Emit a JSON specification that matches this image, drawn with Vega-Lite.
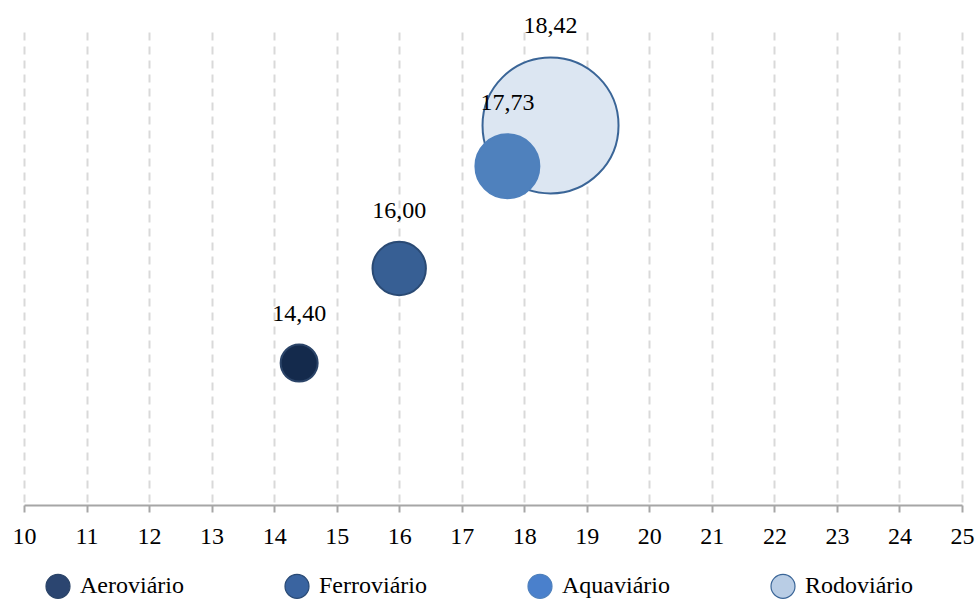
{
  "$schema": "https://vega.github.io/schema/vega-lite/v6.json",
  "width": 938,
  "height": 473,
  "autosize": "none",
  "padding": {"left": 24, "top": 32, "right": 14, "bottom": 95},
  "background": "white",
  "config": {
    "view": {"stroke": null},
    "font": "Liberation Serif",
    "locale": {"number": {"decimal": ",", "thousands": ".", "grouping": [3], "currency": ["R$", ""]}}
  },
  "data": {
    "values": [
      {"modal": "Aeroviário", "valor": 14.40, "tamanho": 7.4},
      {"modal": "Ferroviário", "valor": 16.00, "tamanho": 15.4},
      {"modal": "Aquaviário", "valor": 17.73, "tamanho": 22.1},
      {"modal": "Rodoviário", "valor": 18.42, "tamanho": 100}
    ]
  },
  "encoding": {
    "x": {
      "field": "valor",
      "type": "quantitative",
      "scale": {"domain": [10, 25], "nice": false, "zero": false},
      "axis": {
        "title": null,
        "values": [10, 11, 12, 13, 14, 15, 16, 17, 18, 19, 20, 21, 22, 23, 24, 25],
        "format": "d",
        "grid": true,
        "gridColor": "#d9d9d9",
        "gridDash": [8, 6],
        "gridWidth": 2,
        "domainColor": "#a6a6a6",
        "domainWidth": 2,
        "tickColor": "#a6a6a6",
        "tickWidth": 2,
        "tickSize": 7,
        "labelFont": "Liberation Serif",
        "labelFontSize": 24,
        "labelColor": "#000000",
        "labelPadding": 12,
        "labelFlush": false,
        "labelOverlap": false
      }
    },
    "y": {
      "field": "valor",
      "type": "quantitative",
      "scale": {"domain": [12, 20], "nice": false, "zero": false},
      "axis": null
    }
  },
  "layer": [
    {
      "mark": {"type": "point", "filled": true, "opacity": 0},
      "encoding": {
        "color": {
          "field": "modal",
          "type": "nominal",
          "scale": {
            "domain": ["Aeroviário", "Ferroviário", "Aquaviário", "Rodoviário"],
            "range": ["#2b4570", "#3a64a0", "#4a80cc", "#b9cde5"]
          },
          "legend": {
            "title": null,
            "orient": "none",
            "legendX": 21,
            "legendY": 541,
            "direction": "horizontal",
            "columns": 4,
            "gridAlign": "each",
            "columnPadding": 98,
            "padding": 0,
            "symbolType": "circle",
            "symbolSize": 576,
            "symbolOpacity": 1,
            "symbolStrokeColor": "#2f5280",
            "symbolStrokeWidth": 1.2,
            "labelFont": "Liberation Serif",
            "labelFontSize": 24,
            "labelColor": "#000000",
            "labelOffset": 9,
            "labelLimit": 300
          }
        }
      }
    },
    {
      "mark": {"type": "point", "filled": true, "opacity": 1, "strokeWidth": 2},
      "encoding": {
        "fill": {
          "field": "modal",
          "type": "nominal",
          "scale": {
            "domain": ["Aeroviário", "Ferroviário", "Aquaviário", "Rodoviário"],
            "range": ["#142a4c", "#375f94", "#4f81bd", "#dce6f2"]
          },
          "legend": null
        },
        "stroke": {
          "field": "modal",
          "type": "nominal",
          "scale": {
            "domain": ["Aeroviário", "Ferroviário", "Aquaviário", "Rodoviário"],
            "range": ["#2b4468", "#2a4a74", "#4f81bd", "#3a6597"]
          },
          "legend": null
        },
        "size": {
          "field": "tamanho",
          "type": "quantitative",
          "scale": {"type": "linear", "domain": [0, 100], "range": [0, 18496]},
          "legend": null
        },
        "order": {"field": "tamanho", "sort": "descending"}
      }
    },
    {
      "mark": {
        "type": "text",
        "font": "Liberation Serif",
        "fontSize": 24,
        "color": "#000000",
        "align": "center",
        "baseline": "middle",
        "dy": {"expr": "-31 - 6.8 * sqrt(datum.tamanho)"}
      },
      "encoding": {
        "text": {"field": "valor", "type": "quantitative", "format": ".2f"}
      }
    }
  ]
}
